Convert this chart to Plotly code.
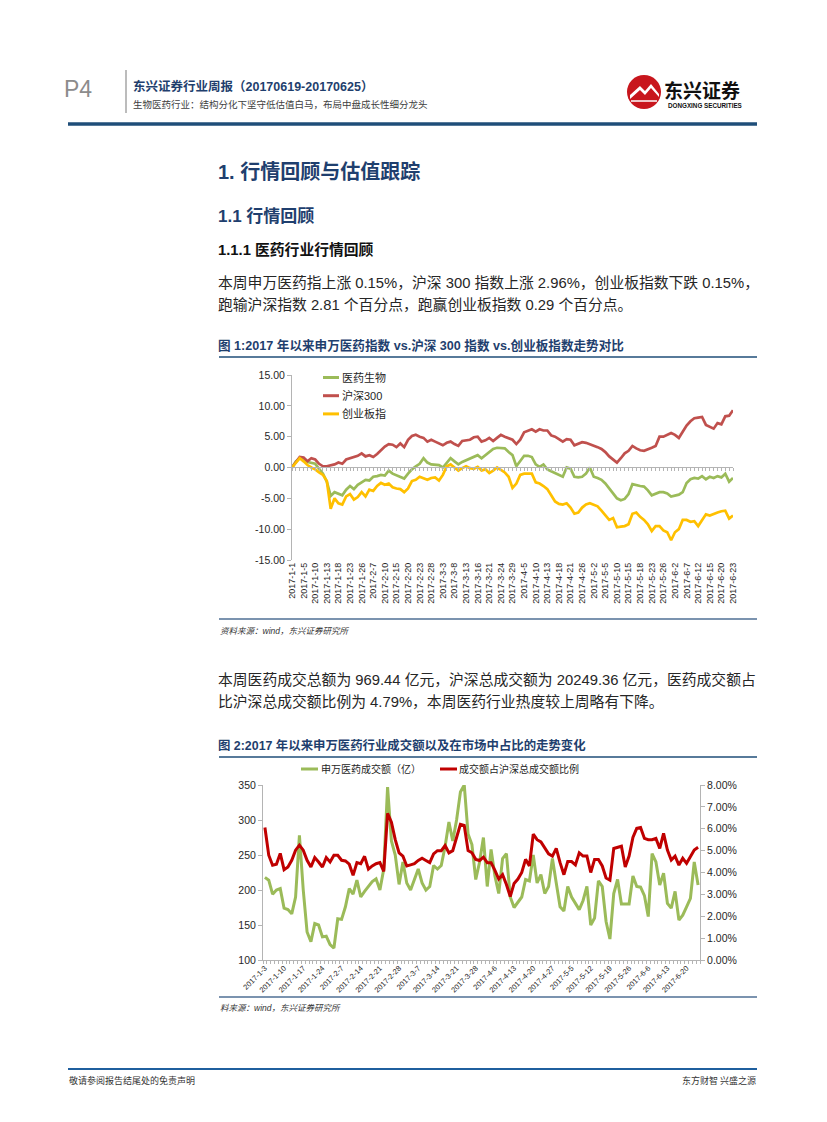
import plotly.graph_objects as go

W, H = 827, 1122
def X(px): return px / W
def Y(py): return 1 - py / H

# ---------------- data ----------------
jan = [1, 3, 4, 5, 6, 9, 10, 11, 12, 13, 16, 17, 18, 19, 20, 23, 24, 25, 26]
feb = [3, 6, 7, 8, 9, 10, 13, 14, 15, 16, 17, 20, 21, 22, 23, 24, 27, 28]
mar = [1, 2, 3, 6, 7, 8, 9, 10, 13, 14, 15, 16, 17, 20, 21, 22, 23, 24, 27, 28, 29, 30, 31]
apr = [5, 6, 7, 10, 11, 12, 13, 14, 17, 18, 19, 20, 21, 24, 25, 26, 27, 28]
may = [2, 3, 4, 5, 8, 9, 10, 11, 12, 15, 16, 17, 18, 19, 22, 23, 24, 25, 26, 31]
jun = [1, 2, 5, 6, 7, 8, 9, 12, 13, 14, 15, 16, 19, 20, 21, 22, 23]
trade_days = [f"2017-{m}-{d}" for m, days in ((1, jan), (2, feb), (3, mar), (4, apr), (5, may), (6, jun)) for d in days]
dates2 = trade_days[1:]

med_idx = [0, 1.0, 1.5, 1.3, 0.9, 0.8, 0.6, -0.2, -1.0, -2.3,
           -4.6, -4.0, -4.3, -4.5, -3.6, -3.0, -3.5, -2.8, -2.4, -2.0,
           -2.1, -1.5, -1.4, -1.2, -1.3, -0.5, -1.0, -1.3, -1.5, -1.8,
           -1.0, -0.3, 0.2, 0.6, 1.5, 0.8, 0.5, 0.5, 0.4, 0.0,
           0.8, 1.5, 1.0, 0.5, 0.9, 1.2, 1.5, 1.8, 2.0, 1.5,
           2.0, 2.6, 3.0, 3.2, 3.2, 3.1, 2.5, 2.0, 0.2, 1.0,
           1.9, 1.9, 1.7, 0.5, 0.1, 0.5, -0.3, -0.6, -0.9, -1.3,
           -1.5, 0.0, -0.2, -1.5, -1.6, -1.5, -1.0, 0.0, -1.5, -1.7,
           -2.0, -2.6, -3.5, -4.2, -5.0, -5.3, -5.1, -4.3, -2.7, -2.9,
           -3.0, -3.1, -3.7, -4.5, -4.2, -4.0, -4.0, -4.2, -4.7, -4.6,
           -4.4, -4.0, -2.5, -1.9, -1.7, -1.8, -1.4, -1.9, -1.5, -1.7,
           -1.4, -1.6, -1.0, -2.3, -1.7]
hs300_idx = [0, 0.9, 1.7, 1.6, 1.0, 1.5, 1.3, 0.6, 0.2, 0.2,
             0.3, 0.5, 0.8, 0.6, 1.3, 1.5, 1.7, 1.9, 2.3, 1.8,
             2.0, 1.7, 2.2, 2.8, 3.4, 3.8, 3.7, 3.3, 3.9, 3.3,
             4.5, 5.1, 5.3, 5.0, 4.8, 4.2, 4.5, 4.2, 3.9, 3.6,
             4.0, 4.2, 3.8, 3.5, 4.3, 4.4, 4.5, 4.9, 5.0, 4.2,
             4.4, 4.8, 4.3, 4.8, 5.3, 5.0, 4.8, 4.5, 3.8, 4.5,
             5.7, 6.0, 6.2, 5.8, 6.2, 6.0, 6.0, 5.2, 5.0, 4.6,
             4.2, 4.6, 4.5, 3.6, 3.9, 4.1, 4.0, 3.8, 3.5, 3.3,
             3.0, 2.5, 1.8, 1.3, 0.8, 1.5, 2.3, 2.7, 3.5, 3.1,
             2.8, 2.7, 2.9, 3.2, 3.5, 5.0, 5.0, 5.3, 5.6, 5.3,
             4.8, 5.8, 6.8, 7.5, 8.0, 8.1, 8.2, 6.9, 6.6, 6.3,
             7.2, 7.0, 8.3, 8.4, 9.3]
cyb_idx = [0, 0.8, 1.5, 1.0, 0.4, 0.0, -0.3, -0.8, -1.2, -2.2,
           -6.7, -5.0, -5.8, -6.0, -4.7, -4.3, -5.2, -4.8, -4.0, -4.7,
           -3.6, -3.8, -3.0, -2.5, -2.8, -2.6, -3.2, -3.4, -3.5, -4.0,
           -3.4, -2.2, -2.0, -1.5, -1.7, -2.0, -1.7, -1.6, -2.1, -1.2,
           0.2, 0.5, 0.0, -0.5, -0.1, 0.2, -0.1, -0.2, 0.1, -0.5,
           -0.3, -0.9, -0.5, 0.0, -0.4, -0.8, -1.5, -3.3, -2.6, -1.2,
           -1.0, -1.0, -1.0, -2.4, -2.6, -3.0, -3.5, -4.5, -5.5, -5.9,
           -6.0, -5.8, -6.5, -7.5, -7.3, -6.5, -6.0, -5.8, -6.0, -6.3,
           -7.0, -7.8, -8.5, -8.2, -9.7, -9.6, -9.5, -9.2, -7.5, -7.3,
           -8.0, -8.5, -9.2, -10.3, -9.5, -9.5, -10.2, -10.5, -11.8, -10.5,
           -10.0, -8.5, -8.5, -8.8, -8.7, -9.5, -8.5, -7.6, -7.8, -7.5,
           -7.3, -7.1, -7.0, -8.3, -7.8]

turnover = [218, 214, 194, 200, 202, 174, 172, 166, 190, 278,
            200, 140, 126, 152, 150, 133, 134, 122, 117, 159,
            158, 176, 202, 194, 214, 190, 198, 205, 212, 216,
            200, 230, 347, 270, 250, 208, 240, 210, 200, 215,
            230, 210, 200, 205, 235, 230, 235, 262, 297, 270,
            300, 340, 350, 280, 265, 215, 240, 275, 205, 258,
            220, 195, 245, 252, 190, 175, 182, 190, 215, 213,
            250, 210, 222, 195, 205, 245, 210, 176, 170, 205,
            190, 180, 172, 185, 205, 150, 160, 213, 205, 155,
            130, 195, 215, 180, 180, 180, 220, 205, 204, 192,
            162, 252, 240, 207, 224, 181, 174, 198, 157, 164,
            176, 188, 240, 207]
ratio = [6.06, 4.79, 4.33, 4.38, 4.87, 4.13, 4.25, 4.56, 5.02, 5.25,
         5.02, 4.56, 4.25, 4.68, 4.48, 4.25, 4.68, 4.48, 4.79, 4.79,
         4.56, 4.53, 4.38, 3.87, 4.45, 4.40, 4.74, 4.15, 4.30, 4.40,
         4.45, 4.05, 6.70, 6.30, 5.50, 4.90, 4.75, 4.30, 4.35, 4.40,
         4.55, 4.65, 4.55, 4.45, 4.85, 5.00, 5.00, 5.23, 4.90, 5.00,
         5.60, 6.20, 6.15, 5.00, 4.90, 4.60, 4.55, 4.70, 4.45, 4.45,
         4.10, 3.70, 3.90, 3.45, 2.90, 3.50, 3.70, 4.00, 4.60, 4.30,
         5.75, 5.50, 5.40, 5.10, 4.85, 4.75, 5.10, 4.45, 3.90, 4.50,
         4.50, 4.35, 4.90, 4.75, 4.75, 4.00, 4.60, 4.60, 4.30, 3.75,
         3.65, 5.10, 5.15, 5.20, 4.25, 4.75, 5.60, 6.02, 6.06, 5.56,
         5.50, 5.50, 5.56, 5.10, 5.79, 5.03, 4.57, 4.75, 4.34, 4.65,
         4.42, 4.75, 5.03, 5.15]

series1_names = ["医药生物", "沪深300", "创业板指"]
series2_names = ["申万医药成交额（亿）", "成交额占沪深总成交额比例"]
y1_ticks = [-15, -10, -5, 0, 5, 10, 15]
y2_ticks = [100, 150, 200, 250, 300, 350]
y3_ticks = [0, 1, 2, 3, 4, 5, 6, 7, 8]

# ---------------- styles ----------------
GREEN1, RED1, YEL1 = "#9bbb59", "#c0504d", "#ffc000"
GREEN2, RED2 = "#9bbb59", "#c00000"
NAVY = "#1f3f6e"
AX = "#b4b4b4"
LAT = "Liberation Sans, Noto Sans CJK SC"
CJK = "Noto Sans CJK SC"
TXT = "#262626"

fig = go.Figure()

# chart 1
for name, vals, col in zip(series1_names, [med_idx, hs300_idx, cyb_idx], [GREEN1, RED1, YEL1]):
    fig.add_trace(go.Scatter(x=trade_days, y=vals, mode="lines", name=name,
                             line=dict(color=col, width=2.7), xaxis="x", yaxis="y",
                             showlegend=False, hoverinfo="skip"))
# helper trace for zero-line tick axis
fig.add_trace(go.Scatter(x=[0, len(trade_days) - 1], y=[0, 0], mode="lines", opacity=0,
                         xaxis="x2", yaxis="y", showlegend=False, hoverinfo="skip"))

# chart 2
fig.add_trace(go.Scatter(x=dates2, y=turnover, mode="lines", name=series2_names[0],
                         line=dict(color=GREEN2, width=3), xaxis="x3", yaxis="y3",
                         showlegend=False, hoverinfo="skip"))
fig.add_trace(go.Scatter(x=dates2, y=ratio, mode="lines", name=series2_names[1],
                         line=dict(color=RED2, width=3), xaxis="x3", yaxis="y4",
                         showlegend=False, hoverinfo="skip"))
fig.add_trace(go.Scatter(x=[-0.5, len(dates2) - 0.5], y=[100, 100], mode="lines", opacity=0,
                         xaxis="x4", yaxis="y3", showlegend=False, hoverinfo="skip"))

c1x = [X(292), X(733)]
c1y = [Y(560), Y(375)]
c2x = [X(263), X(700)]
c2y = [Y(960), Y(785)]

fig.update_layout(
    width=W, height=H, margin=dict(l=0, r=0, t=0, b=0, pad=0, autoexpand=False),
    paper_bgcolor="white", plot_bgcolor="rgba(0,0,0,0)", showlegend=False,
    xaxis=dict(domain=c1x, anchor="y", type="category", range=[0, len(trade_days) - 1],
               tickmode="array", tickvals=trade_days[::3], ticktext=trade_days[::3],
               tickangle=-90, ticks="", showline=False, showgrid=False, zeroline=False,
               tickfont=dict(family=LAT, size=9, color=TXT)),
    xaxis2=dict(domain=c1x, overlaying="x", anchor="free", position=Y(467.3), side="bottom",
                type="linear", range=[0, len(trade_days) - 1], tickmode="linear", tick0=0, dtick=1,
                ticks="outside", ticklen=3, tickcolor=AX, showline=True, linecolor=AX, linewidth=1,
                showticklabels=False, showgrid=False, zeroline=False),
    yaxis=dict(domain=c1y, anchor="x", range=[-15, 15], tickmode="array", tickvals=y1_ticks,
               ticktext=[f"{v:.2f}" for v in y1_ticks], ticks="outside", ticklen=4, tickcolor=AX,
               showline=True, linecolor=AX, showgrid=False, zeroline=False,
               tickfont=dict(family=LAT, size=10.5, color=TXT)),
    xaxis3=dict(domain=c2x, anchor="y3", type="category", range=[-0.5, len(dates2) - 0.5],
                tickmode="array", tickvals=dates2[::5], ticktext=dates2[::5], tickangle=-45,
                ticks="", showline=True, linecolor=AX, showgrid=False, zeroline=False,
                tickfont=dict(family=LAT, size=7.5, color=TXT)),
    xaxis4=dict(domain=c2x, overlaying="x3", anchor="y3", type="linear",
                range=[-0.5, len(dates2) - 0.5], tickmode="linear", tick0=-0.5, dtick=1,
                ticks="outside", ticklen=3, tickcolor=AX, showline=False, showticklabels=False,
                showgrid=False, zeroline=False),
    yaxis3=dict(domain=c2y, anchor="x3", range=[100, 350], tickmode="array", tickvals=y2_ticks,
                ticks="outside", ticklen=4, tickcolor=AX, showline=True, linecolor=AX,
                showgrid=False, zeroline=False, tickfont=dict(family=LAT, size=10.5, color=TXT)),
    yaxis4=dict(overlaying="y3", anchor="x3", side="right", range=[0, 8], tickmode="array",
                tickvals=y3_ticks, ticktext=[f"{v:.2f}%" for v in y3_ticks], ticks="outside",
                ticklen=4, tickcolor=AX, showline=True, linecolor=AX, showgrid=False,
                zeroline=False, tickfont=dict(family=LAT, size=10.5, color=TXT)),
)

shapes = []
annos = []

def line(x0, y0, x1, y1, color, width):
    shapes.append(dict(type="line", xref="paper", yref="paper", x0=X(x0), y0=Y(y0),
                       x1=X(x1), y1=Y(y1), line=dict(color=color, width=width)))

def text(x, y, s, size, color=TXT, family=LAT, bold=False, anchor="left"):
    if bold:
        s = "<b>" + s + "</b>"
    annos.append(dict(xref="paper", yref="paper", x=X(x), y=Y(y), text=s, showarrow=False,
                      xanchor=anchor, yanchor="middle", borderpad=0,
                      font=dict(family=family, size=size, color=color)))

# header
text(63, 89, "P4", 23, color="#8c8c8c", family="Liberation Sans Narrow, Liberation Sans")
line(126, 70, 126, 113, "#a6a6a6", 1.5)
text(132, 87, "东兴证券行业周报（20170619-20170625）", 12.5, color=NAVY, bold=True)
text(132, 104, "生物医药行业：结构分化下坚守低估值白马，布局中盘成长性细分龙头", 9.5, color="#404040", family=CJK)
# logo
shapes.append(dict(type="circle", xref="paper", yref="paper", x0=X(627), y0=Y(75), x1=X(661), y1=Y(109),
                   fillcolor="#c8161d", line=dict(color="#c8161d", width=0)))
pts = [(630, 95), (640, 86), (645, 91), (651, 84), (659, 94), (659, 97), (651, 88), (645, 95), (640, 90), (630, 99)]
path = "M " + " L ".join(f"{X(a):.5f},{Y(b):.5f}" for a, b in pts) + " Z"
shapes.append(dict(type="path", xref="paper", yref="paper", path=path, fillcolor="white",
                   line=dict(color="white", width=0)))
line(631, 101, 657, 101, "white", 1.5)
text(663, 89, "东兴证券", 19, color="#111111", family=CJK, bold=True)
text(667, 105, "DONGXING SECURITIES", 6.3, color="#111111", bold=True)
line(68, 124, 757, 124, "#1f4e79", 3.5)

# headings and body
text(217, 172, "1. 行情回顾与估值跟踪", 20, color=NAVY, bold=True)
text(217, 216, "1.1 行情回顾", 17, color=NAVY, bold=True)
text(217, 249, "1.1.1 医药行业行情回顾", 14.8, color="#111111", bold=True)
text(217, 282, "本周申万医药指上涨 0.15%，沪深 300 指数上涨 2.96%，创业板指数下跌 0.15%，", 14.8)
text(217, 304, "跑输沪深指数 2.81 个百分点，跑赢创业板指数 0.29 个百分点。", 14.8)
text(217, 346, "图 1:2017 年以来申万医药指数 vs.沪深 300 指数 vs.创业板指数走势对比", 12.6, color=NAVY, bold=True)
line(219, 357, 757, 357, "#1f4e79", 1.5)

# chart 1 legend
for i, (name, col) in enumerate(zip(series1_names, [GREEN1, RED1, YEL1])):
    yy = 377.5 + i * 18.2
    line(323, yy, 339, yy, col, 3)
    text(341, yy, name, 11)

line(219, 619, 757, 619, "#4f6f94", 1.5)
text(219, 631, "<i>资料来源：wind，东兴证券研究所</i>", 8.5, color="#333333")

text(217, 679, "本周医药成交总额为 969.44 亿元，沪深总成交额为 20249.36 亿元，医药成交额占", 14.8)
text(217, 702, "比沪深总成交额比例为 4.79%，本周医药行业热度较上周略有下降。", 14.8)
text(217, 745, "图 2:2017 年以来申万医药行业成交额以及在市场中占比的走势变化", 12.4, color=NAVY, bold=True)
line(219, 757, 757, 757, "#1f4e79", 1.5)

# chart 2 legend
line(301, 769, 318, 769, GREEN2, 3)
text(320, 769, series2_names[0], 10)
line(440, 769, 457, 769, RED2, 3)
text(458, 769, series2_names[1], 10)

line(219, 997, 757, 997, "#4f6f94", 1.5)
text(219, 1008, "<i>料来源：wind，东兴证券研究所</i>", 8.5, color="#333333")

# footer
line(68, 1069, 757, 1069, "#1f5f9e", 2)
text(68, 1080, "敬请参阅报告结尾处的免责声明", 9, color="#333333", family=CJK)
text(757, 1080, "东方财智 兴盛之源", 9, color="#333333", family=CJK, anchor="right")

fig.update_layout(shapes=shapes, annotations=annos)
fig.write_html("out.html", config={"displayModeBar": False},
               post_script="document.body.style.margin='0';document.body.style.overflow='hidden';")
